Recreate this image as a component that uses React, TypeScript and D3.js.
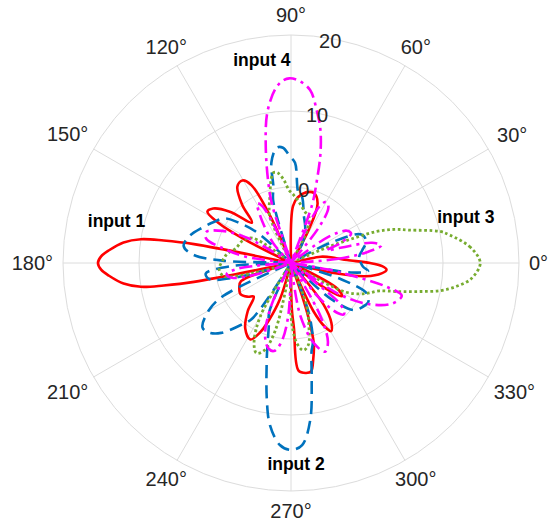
import React from 'react';
import * as d3 from 'd3';

const W = 554;
const H = 525;
const CX = 291;
const CY = 263;
const R = 228;

const rDomain: [number, number] = [-10, 20];
const rTicks = [0, 10, 20];
const rTickAngle = 80;
const thetaTicks = [0, 30, 60, 90, 120, 150, 180, 210, 240, 270, 300, 330];

type P = [number, number]; // [angle deg, value]

const input1: P[] = [
  [0, 0.4], [3, -2.6], [6, -4], [9, -5], [12, -6], [14, -10],
  [57, -10], [62, -5], [66, -1.4], [72, -0.3], [78, -0.5], [84, -1.3], [88, -2.5], [91, -10],
  [111, -10], [114, -3], [117, 1.5], [120.5, 2.6], [125, 2.3], [130, 0], [134, -2.6], [140, 0.5],
  [145, 2.5], [148.5, 2.9], [151, 1], [153, -3], [156, -10],
  [167, -10], [169, 3], [170, 7], [171, 10], [173, 12.2], [176, 14], [178, 15], [180, 15.4],
  [182, 15], [184, 14], [187, 12.2], [189, 10], [190, 7], [191, 3], [193, -10],
  [196, -10], [200, -3], [205, -2.5], [212, -2.2], [218, -2.8], [222, -3.4], [228, -1.5],
  [235, 0.5], [242, 1.4], [246, 0], [249, -2], [253, -5], [257, -10],
  [269, -10], [271, -4], [272.6, -1.4], [274, 4.2], [277.8, 4.6], [280.5, 4.5], [283, 3],
  [285.8, 1], [288, -3], [290, -10],
  [292, -10], [295, -3], [298, -0.5], [300.5, 0.4], [304, -0.5], [308, -3], [312, -10],
  [320, -10], [323, -5], [327, -2], [331, -3], [335, -10],
  [344, -10], [347, -4], [350, 0], [353.5, 2], [356, 2.6], [358, 2],
];

const input2: P[] = [
  [0, -0.8], [5, -1], [10, -0.5], [16, 0.3], [22, 0], [27, -4], [32, -10],
  [55, -10], [60, -7], [68, -5], [75, -3.5], [80.5, -1.2], [84, -0.7], [87.7, 3.2], [90.5, 4],
  [94, 5.2], [97, 5.3], [101, 3.5], [103, 0.3], [106, -1.5], [109, -10],
  [134, -10], [138, -4], [142, -1.5], [146, 0.5], [152, 1.5], [158, 2.5], [165, 3.8], [171, 4.3],
  [175, 3], [178, -1], [180, -10],
  [183, -2], [187, 1.3], [191, 1], [195, -3], [199, -10],
  [203, -10], [206, 0], [210, 2.5], [216, 4.4], [220, 4.2], [225, 3], [231, 0.5], [235, -1], [239, -10],
  [242, -10], [246, -3], [251, -1], [253.5, 0.8], [256, 3.2], [260, 8.3], [262.6, 11.5], [266.5, 14],
  [270, 14.6], [273.5, 14], [277, 10.8], [280, 5.7], [283, 2], [285.5, 0.8], [289.5, -2.9], [293, -10],
  [314, -10], [318, -3], [323, 0.3], [328, 1], [333, 1.4], [338, 0.8], [342, -3], [346, -10],
  [349, -10], [351, -2], [354, 0.2], [357, -0.5],
];

const input3: P[] = [
  [0, 14.9], [5, 13.7], [10, 11.2], [12, 10], [15.5, 6.2], [18, 4.3], [20.2, 2], [21.5, -1],
  [23.5, -5], [26, -10],
  [60, -10], [64, -5], [68.6, -3.5], [75, -3], [82, -2], [88, -1], [91.6, -0.4], [95, 1],
  [98.5, 2], [101, 2.1], [104, 1], [107, -0.6], [111, -2], [114.5, -3.3], [118, -10],
  [143, -10], [147, -4], [155, -3], [165, -2.5], [172, -1.5], [178, -1], [185, -0.5], [191, -1],
  [195, -5], [198, -10],
  [235, -10], [240, -2], [245, 1.5], [249, 2.7], [253, 2], [257, -1], [261, -10],
  [266, -10], [270, -3], [274, 0.5], [278, 1.6], [282, 1], [286, -1.5], [290, -4], [293, -10],
  [326, -10], [329, -6], [332, -1.8], [336, 0], [339, 1], [342.5, 2.2], [345, 4.5], [347.4, 7.2],
  [349.5, 10], [352, 12], [355, 13.8],
];

const input4: P[] = [
  [2, -10], [5, -4], [8, 0], [11, 2.1], [14, 1], [17, -3], [19.5, -5], [22, -3], [26, -1.2],
  [30, -1.5], [35, -4], [39, -10],
  [48, -10], [52, -4], [56, -1.2], [60, -0.7], [63, -1.5], [66, -5], [68, -10],
  [70, -2], [72.6, 1.4], [75, 5], [77.6, 8], [80, 10], [83.7, 12.9], [87.5, 14], [90.5, 14.3],
  [92.7, 14], [95.3, 12.9], [99, 10], [102, 6], [105.5, 1.3], [108, -2], [111, -10],
  [114, -5], [117, -1.5], [119.5, -1], [123, -2.5], [128, -5], [133, -7], [136, -10],
  [146, -10], [150, -3.5], [155, 0], [160, 1.9], [164, 1.6], [168, -1], [172, -4], [176, -10],
  [182, -10], [186, -3], [190, -1.4], [194, -2], [198, -5], [201, -10],
  [240, -10], [245, -4], [250, 0], [255, 1.6], [259, 1.8], [263, 0.5], [267, -3], [270, -10],
  [275, -10], [280, -3], [286, 1], [291, 2.5], [295, 1.5], [299, -2], [303, -10],
  [305, -10], [309, -4], [313, -1], [316, -0.3], [320, -1.5], [324, -10],
  [327, -2.5], [332, 1.5], [338, 4.3], [343.5, 5.2], [346, 3], [348, -1], [350, -5], [353, -10],
];

const seriesNames = ['input 1', 'input 2', 'input 3', 'input 4'];
const seriesData = [input1, input2, input3, input4];
// label anchor (angle deg, value) for each series name
const labelAngles = [168.3, 271.4, 12.9, 98.4];
const labelValues = [13.45, 17.2, 13.6, 16.2];

const styles = [
  { color: '#FF0000', dash: 'none', width: 2.6 },
  { color: '#0072BD', dash: '13,7', width: 2.6 },
  { color: '#77AC30', dash: '2.7,2.6', width: 2.8 },
  { color: '#FF00FF', dash: '13,5,3,5', width: 2.6 },
];

const FONT = '"Liberation Sans", Arial, Helvetica, sans-serif';

export default function App() {
  const r = d3.scaleLinear().domain(rDomain).range([0, R]).clamp(true);
  const rad = (deg: number) => (deg * Math.PI) / 180;
  const line = d3
    .lineRadial<P>()
    .angle((d) => rad(90 - d[0]))
    .radius((d) => r(d[1]))
    .curve(d3.curveCatmullRomClosed.alpha(0.5));

  const fs = 20;
  const labelGap = 238;
  const halfH = 10;

  return (
    <svg
      width={W}
      height={H}
      style={{ position: 'absolute', left: 0, top: 0, background: '#fff' }}
      fontFamily={FONT}
    >
      <rect width={W} height={H} fill="#fff" />
      <g transform={`translate(${CX},${CY})`}>
        {thetaTicks.map((t) => (
          <line
            key={'s' + t}
            x1={0}
            y1={0}
            x2={R * Math.cos(rad(t))}
            y2={-R * Math.sin(rad(t))}
            stroke="#dcdcdc"
            strokeWidth={1}
          />
        ))}
        {rTicks.map((v) => (
          <circle key={'c' + v} r={r(v)} fill="none" stroke="#dcdcdc" strokeWidth={1} />
        ))}
        {seriesData.map((data, i) => (
          <path
            key={'p' + i}
            d={line(data) || ''}
            fill="none"
            stroke={styles[i].color}
            strokeWidth={styles[i].width}
            strokeDasharray={styles[i].dash}
            strokeLinejoin="round"
          />
        ))}
        {rTicks.map((v) => {
          const rr = r(v) - 2;
          const x = rr * Math.cos(rad(rTickAngle));
          const y = -rr * Math.sin(rad(rTickAngle));
          return (
            <text key={'rt' + v} x={x} y={y + 7.2} textAnchor="middle" fontSize={fs} fill="#262626">
              {v}
            </text>
          );
        })}
        {thetaTicks.map((t) => {
          const label = `${t}°`;
          const hw = ((String(t).length * 0.556 + 0.4) * fs) / 2;
          const c = Math.cos(rad(t));
          const s = Math.sin(rad(t));
          const ax = Math.abs(c) > 1e-6 ? hw / Math.abs(c) : Infinity;
          const ay = Math.abs(s) > 1e-6 ? halfH / Math.abs(s) : Infinity;
          const tt = labelGap + Math.min(ax, ay);
          const x = tt * c;
          const y = -tt * s;
          return (
            <text key={'tt' + t} x={x} y={y + 7.2} textAnchor="middle" fontSize={fs} fill="#262626">
              {label}
            </text>
          );
        })}
        {seriesNames.map((name, i) => {
          const rr = r(labelValues[i]);
          const x = rr * Math.cos(rad(labelAngles[i]));
          const y = -rr * Math.sin(rad(labelAngles[i]));
          return (
            <text
              key={'n' + i}
              x={x}
              y={y}
              textAnchor="middle"
              fontSize={17.5}
              fontWeight="bold"
              fill="#000"
            >
              {name}
            </text>
          );
        })}
      </g>
    </svg>
  );
}
